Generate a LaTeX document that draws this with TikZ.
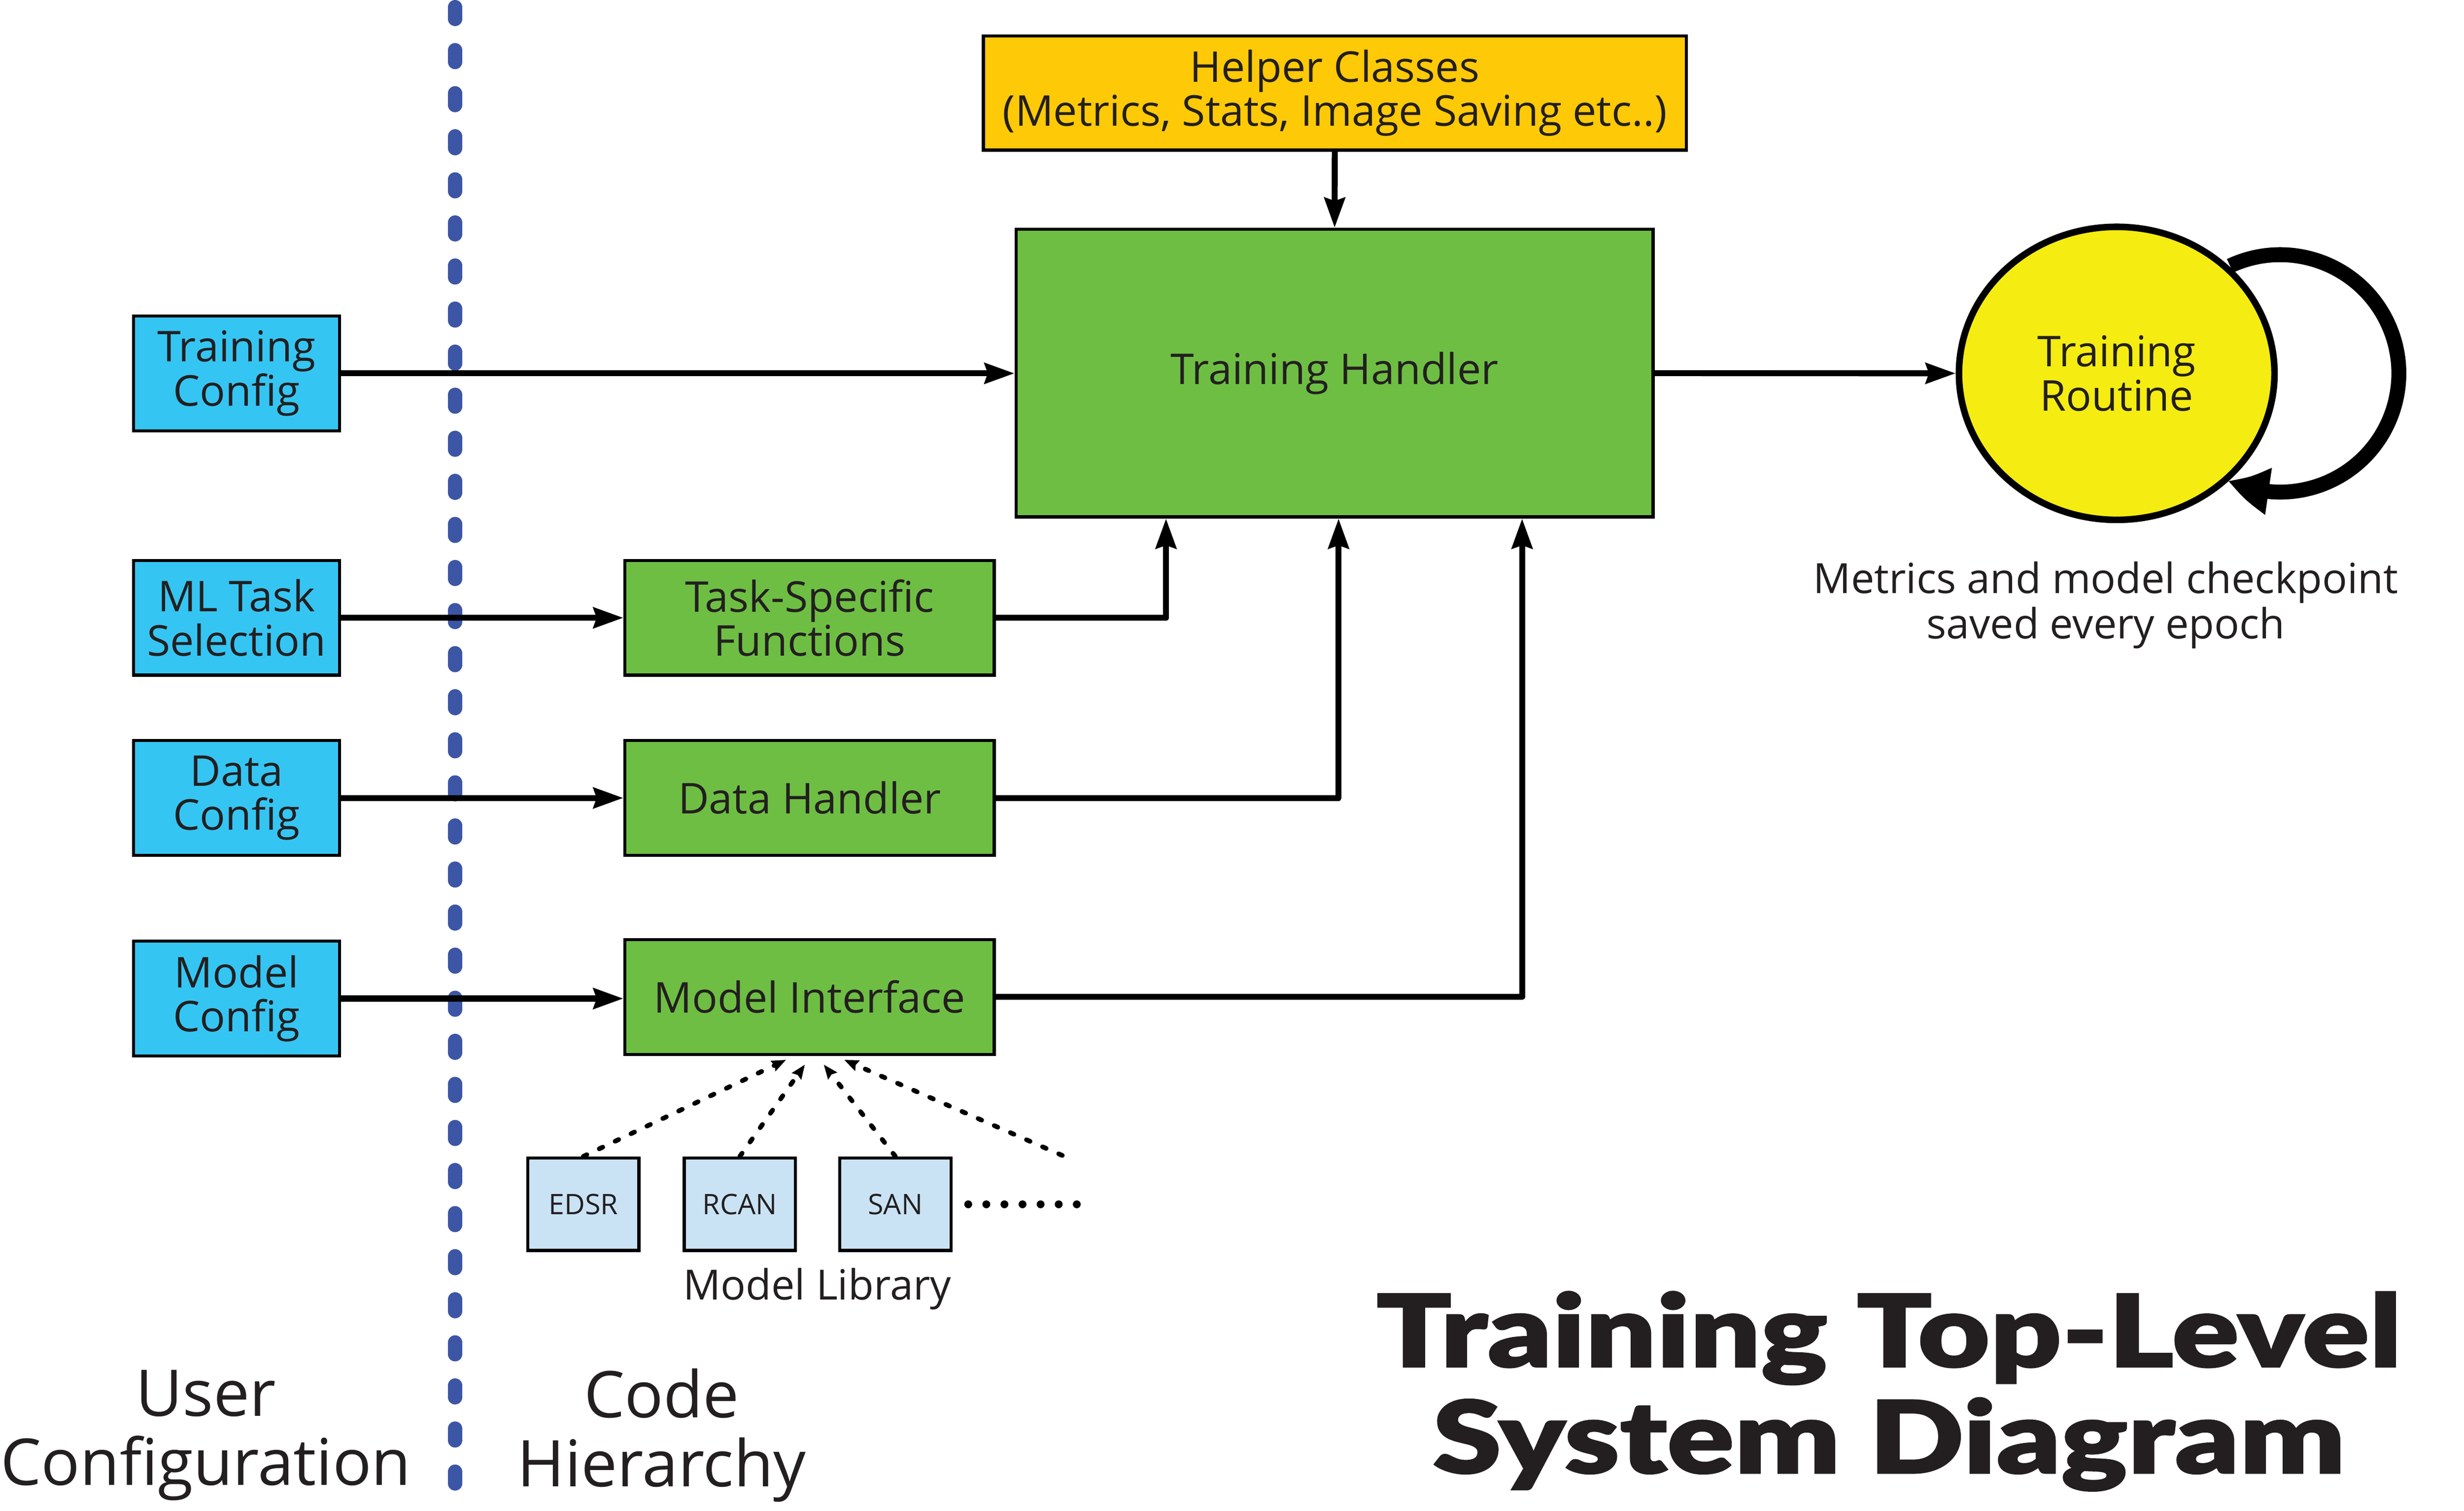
\documentclass[tikz,border=0pt]{standalone}
\usepackage{fontspec}
\setmainfont{Open Sans}
\IfFontExistsTF{Lato Black}{\newfontfamily\titlefont[FakeStretch=1.24,FakeBold=1.2]{Lato Black}}{\newfontfamily\titlefont[FakeStretch=1.24,FakeBold=3]{Lato}}
\usetikzlibrary{arrows.meta,bending,shapes.geometric}
\definecolor{cfgblue}{RGB}{53,197,243}
\definecolor{codegreen}{RGB}{110,190,68}
\definecolor{helpergold}{RGB}{254,201,7}
\definecolor{routineyel}{RGB}{245,236,18}
\definecolor{libblue}{RGB}{201,227,245}
\definecolor{divblue}{RGB}{60,85,165}
\definecolor{ink}{RGB}{35,31,32}
\begin{document}
\begin{tikzpicture}[x=1pt,y=-1pt,
  box/.style={draw=black, line width=2pt, inner sep=0pt, align=center, text=ink,
    font=\fontsize{27}{28}\selectfont},
  cfgbox/.style={box, fill=cfgblue, minimum width=131pt, minimum height=73pt},
  codebox/.style={box, fill=codegreen, minimum width=235pt, minimum height=73pt},
  libbox/.style={box, fill=libblue, minimum width=70.7pt, minimum height=58.8pt,
    font=\fontsize{18}{20}\selectfont},
  arr/.style={line width=3.8pt, line join=round, line cap=round,
    -{Stealth[length=19pt,width=13pt,inset=2pt]}},
  dotarr/.style={line width=3pt, line cap=round, dash pattern=on 2.5pt off 8.7pt,
    -{Stealth[length=9pt,width=7pt,inset=1pt]}},
  label/.style={align=center, text=ink, inner sep=0pt}]
\useasboundingbox (0,0) rectangle (1568,961);

% divider
\draw[divblue, line width=9pt, line cap=round, dash pattern=on 7.6pt off 19.8pt]
  (289.6,4.5) -- (289.6,950);

% user configuration boxes
\node[cfgbox] (tc) at (150.5,237.5) {Training\\Config};
\node[cfgbox] (ml) at (150.5,393) {ML Task\\Selection};
\node[cfgbox] (dc) at (150.5,507.6) {Data\\Config};
\node[cfgbox] (mc) at (150.5,635.2) {Model\\Config};

% code boxes
\node[codebox] (tsf) at (515.2,393) {Task-Specific\\Functions};
\node[codebox] (dh) at (515.2,507.6) {Data Handler};
\node[codebox] (mi) at (515.2,634.2) {Model Interface};
\node[box, fill=codegreen, minimum width=405.4pt, minimum height=183pt] (th) at (849.3,237.35) {Training Handler};
\node[box, fill=helpergold, minimum width=447.3pt, minimum height=72.5pt] (hc) at (849.4,59.2)
  {Helper Classes\\(Metrics, Stats, Image Saving etc..)};
\node[ellipse, draw=black, line width=4.2pt, fill=routineyel, minimum width=200.8pt,
  minimum height=186.4pt, inner sep=0pt, align=center, text=ink,
  font=\fontsize{27}{28}\selectfont] (tr) at (1347,237.5) {Training\\Routine};

% model library
\node[libbox] (edsr) at (371.2,766) {EDSR};
\node[libbox] (rcan) at (470.8,766) {RCAN};
\node[libbox] (san) at (569.8,766) {SAN};
\coordinate (more) at (676,735);

% connectors
\draw[arr] (tc.east) -- (tc.east -| th.west);
\draw[arr] (ml.east) -- (tsf.west);
\draw[arr] (dc.east) -- (dh.west);
\draw[arr] (mc.east) -- (mc.east -| mi.west);
\draw[arr] (tsf.east) -| ([xshift=-107.3pt]th.south);
\draw[arr] (dh.east) -| ([xshift=2.5pt]th.south);
\draw[arr] (mi.east) -| ([xshift=119.3pt]th.south);
\draw[arr] (hc.south) -- (th.north);
\draw[arr] (th.east) -- (tr.west);

\draw[dotarr] (edsr.north) -- ([xshift=-15pt,yshift=-2.5pt]mi.south);
\draw[dotarr] (rcan.north) -- ([xshift=-3pt,yshift=-5.5pt]mi.south);
\draw[dotarr] (san.north) -- ([xshift=9pt,yshift=-5.5pt]mi.south);
\draw[dotarr] (more) -- ([xshift=22pt,yshift=-2.5pt]mi.south);
\draw[line width=5pt, line cap=round, dash pattern=on 0.01pt off 11.5pt]
  ([xshift=10pt]san.east) -- ++(71pt,0);

% self loop
\draw[line width=9.5pt, -{Triangle[length=27pt,width=28pt,bend]}]
  (1419.1,169.1) arc[start angle=115, end angle=-116, radius=75.5pt];

% texts
\node[label, font=\fontsize{26.5}{29}\selectfont] (note) at (1340,385)
  {Metrics and model checkpoint\\saved every epoch};
\node[label, font=\fontsize{26.5}{28}\selectfont] (lib) at (520,820) {Model Library};
\node[label, font=\fontsize{41}{44}\selectfont] (usr) at (131,913) {User\\Configuration};
\node[label, font=\fontsize{41}{44}\selectfont] (code) at (421,913) {Code\\Hierarchy};
\node[label, font=\titlefont\fontsize{64}{67.6}\selectfont] (title) at (1202,885)
  {Training Top-Level\\System Diagram};
\end{tikzpicture}
\end{document}
